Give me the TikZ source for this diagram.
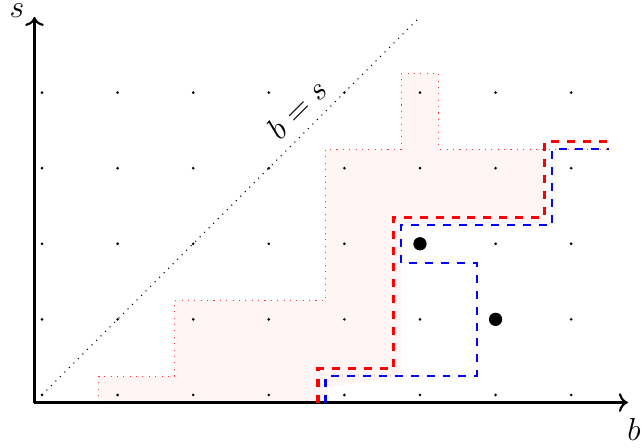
\documentclass[tikz,border=0pt]{standalone}
\usepackage{amsmath}
\usetikzlibrary{arrows.meta,calc}

\begin{document}
\begin{tikzpicture}[
    every node/.style={font=\large},
    axis/.style={thick, ->},
    grid_dot/.style={circle, fill=black, inner sep=0pt, minimum size=1.1pt},
    big_dot/.style={circle, fill=black, inner sep=0pt, minimum size=5pt},
    region/.style={fill=red!4, draw=red!80, dotted},
    red_path/.style={draw=red, very thick, dashed},
    blue_path/.style={draw=blue, thick, dashed}
]
\useasboundingbox (-0.556,-0.70) rectangle (7.937,5.225);

% Shaded region
\fill[red!4] (0.75,-0.1) -- (0.75,0.25) -- (1.75,0.25) -- (1.75,1.25) -- (3.75,1.25)
    -- (3.75,3.25) -- (4.75,3.25) -- (4.75,4.25) -- (5.25,4.25) -- (5.25,3.25)
    -- (6.65,3.25) -- (6.65,2.25) -- (4.75,2.25) -- (4.75,0.25) -- (3.78,0.1)
    -- (3.78,-0.1) -- cycle;
\draw[red!80, dotted] (0.75,-0.1) -- (0.75,0.25) -- (1.75,0.25) -- (1.75,1.25)
    -- (3.75,1.25) -- (3.75,3.25) -- (4.75,3.25) -- (4.75,4.25) -- (5.25,4.25)
    -- (5.25,3.25) -- (7.5,3.25);

% Grid of points
\foreach \i in {0,...,7} {
    \foreach \j in {0,...,4} {
        \node[grid_dot] (p\i\j) at (\i,\j) {};
    }
}

% Diagonal
\coordinate (d0) at (0,0);
\coordinate (d1) at (4.97,4.97);
\draw[dotted] (d0) -- (d1) node[pos=0.72, above, sloped, inner sep=4pt] (diag) {$b=s$};

% Axes
\coordinate (O) at (-0.1,-0.1);
\coordinate (xend) at (7.75,-0.1);
\coordinate (yend) at (-0.1,5.0);
\draw[axis] (O) -- (xend);
\draw[axis] (O) -- (yend);
\node (blabel) at (7.83,-0.45) {$b$};
\node (slabel) at (-0.33,5.09) {$s$};

% Paths
\draw[red_path] (3.65,-0.1) -- (3.65,0.35) -- (4.65,0.35) -- (4.65,2.35)
    -- (6.65,2.35) -- (6.65,3.35) -- (7.5,3.35);
\draw[blue_path] (3.75,-0.1) -- (3.75,0.25) -- (5.75,0.25) -- (5.75,1.75)
    -- (4.75,1.75) -- (4.75,2.25) -- (6.75,2.25) -- (6.75,3.25) -- (7.5,3.25);

% Marked points
\node[big_dot] (m1) at (5,2) {};
\node[big_dot] (m2) at (6,1) {};

\end{tikzpicture}
\end{document}
